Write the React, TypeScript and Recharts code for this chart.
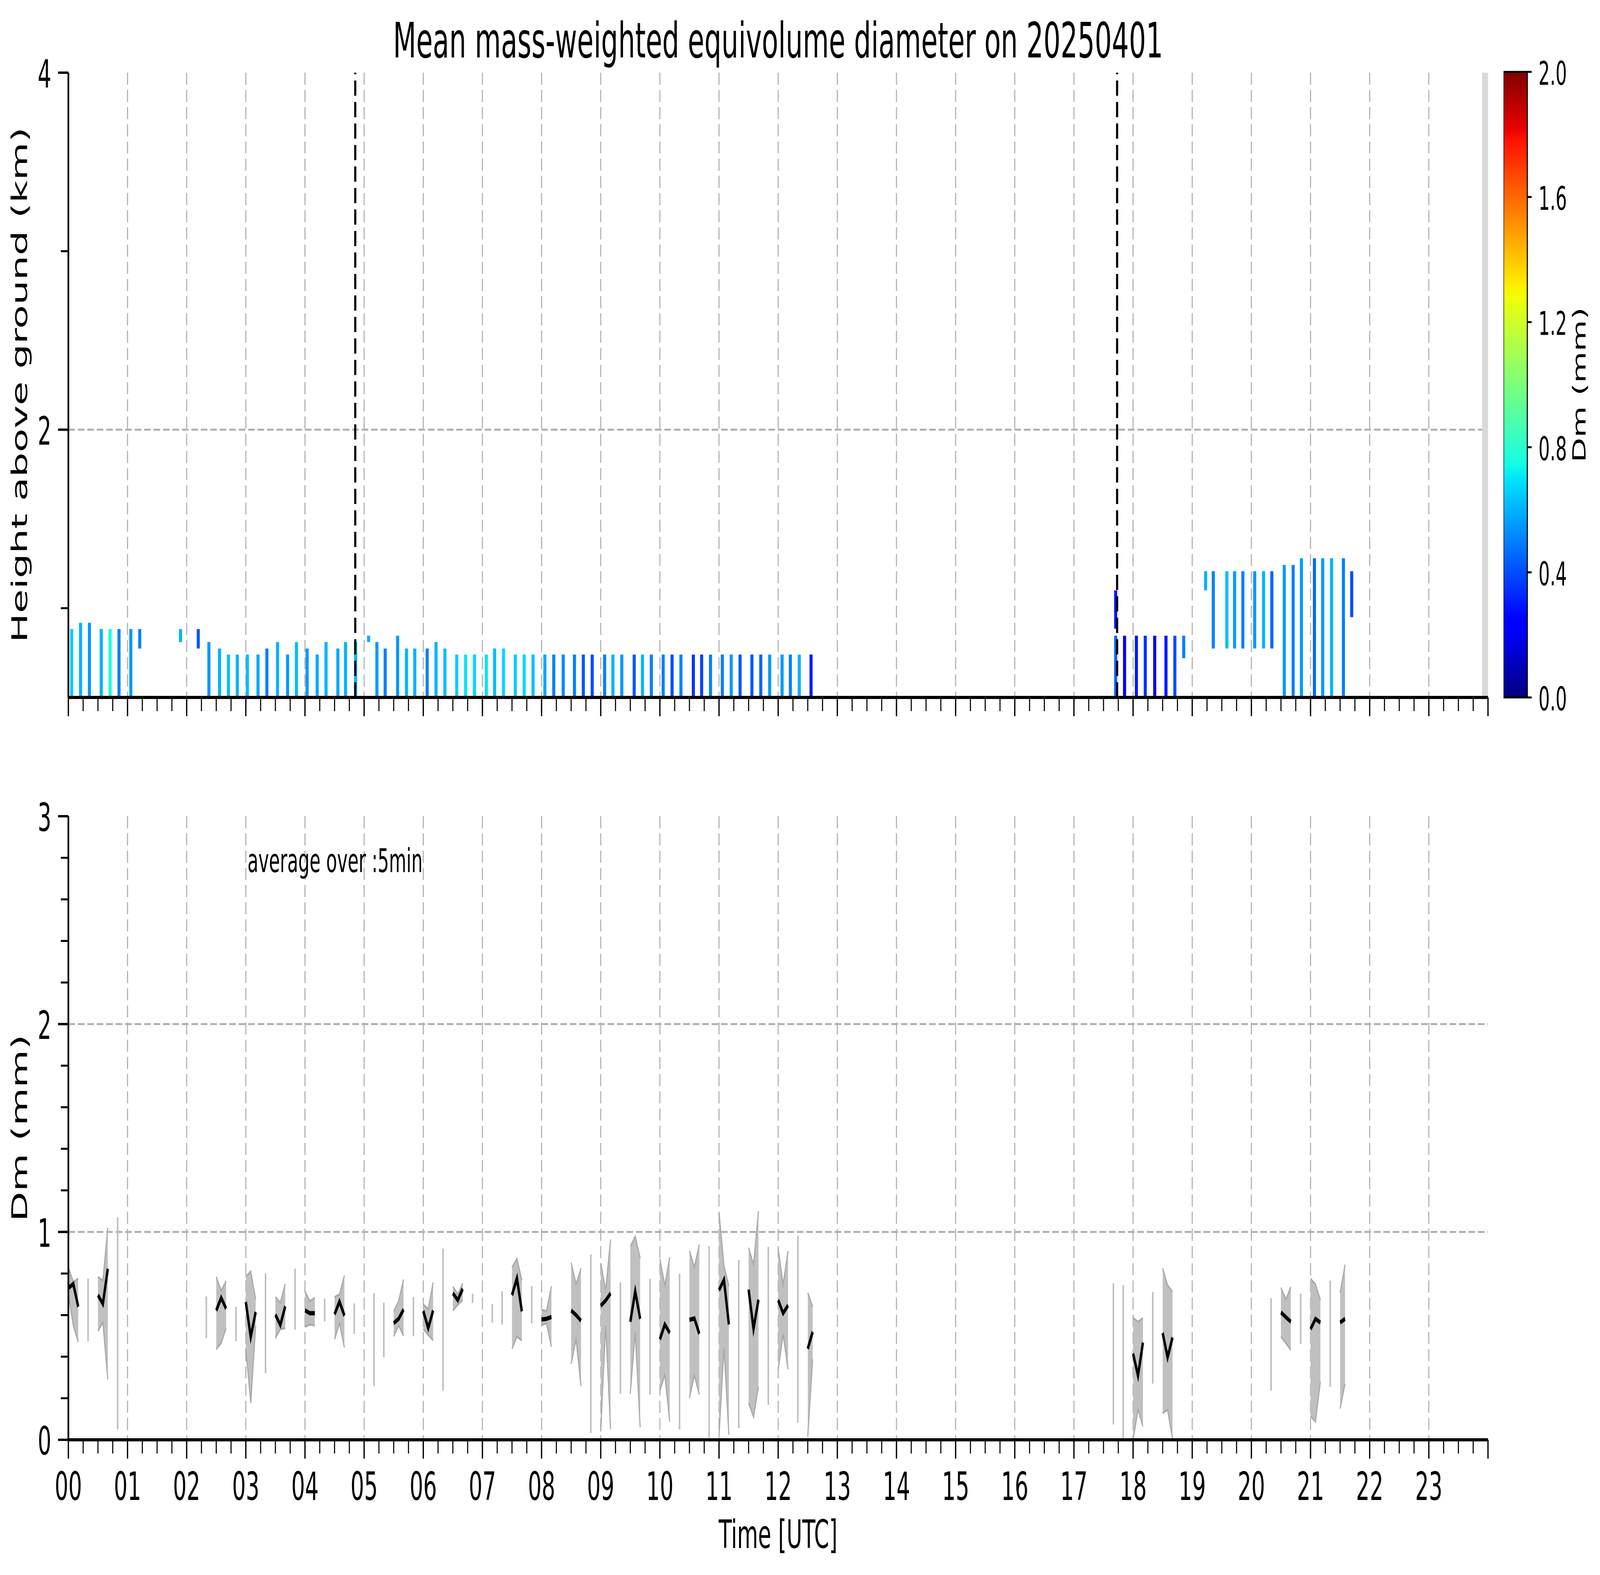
import React from 'react'
import {
  ComposedChart,
  XAxis,
  YAxis,
  CartesianGrid,
  ReferenceArea,
  ReferenceLine,
  Area,
  Line,
} from 'recharts'

const FONT = '"DejaVu Sans", sans-serif'
const FIG_W = 7442
const FIG_H = 4031

// hour labels on the time axis
const hourLabels = [
  '00', '01', '02', '03', '04', '05', '06', '07', '08', '09', '10', '11',
  '12', '13', '14', '15', '16', '17', '18', '19', '20', '21', '22', '23',
]
const gridHours = [1, 2, 3, 4, 5, 6, 7, 8, 9, 10, 11, 12, 13, 14, 15, 16, 17, 18, 19, 20, 21, 22, 23]
const quarterTicks = Array.from({ length: 97 }, (_, i) => i / 4)
const heightTicks = [1, 2, 3, 4]
const heightLabels = [2, 4]
const dmTicks = [0, 0.2, 0.4, 0.6, 0.8, 1, 1.2, 1.4, 1.6, 1.8, 2, 2.2, 2.4, 2.6, 2.8, 3]
const dmLabels = [0, 1, 2, 3]
const cbarTicks = [0, 0.4, 0.8, 1.2, 1.6, 2.0]

// twilight markers (hours)
const twilight = [4.85, 17.73]

// radar profiles (top panel): start hour, base km, top km, Dm mm
const stripeTime = [
  0.03, 0.18, 0.33, 0.53, 0.68, 0.83, 1.03, 1.18, 1.87, 2.17,
  2.35, 2.53, 2.68, 2.83, 3.0, 3.18, 3.33, 3.51, 3.68, 3.83,
  4.01, 4.18, 4.33, 4.53, 4.66, 4.83, 5.05, 5.19, 5.33, 5.54,
  5.69, 5.83, 6.04, 6.19, 6.34, 6.54, 6.69, 6.84, 7.04, 7.18,
  7.33, 7.53, 7.68, 7.83, 8.03, 8.18, 8.34, 8.53, 8.68, 8.83,
  9.04, 9.18, 9.33, 9.54, 9.68, 9.83, 10.03, 10.18, 10.33, 10.54,
  10.68, 10.83, 11.03, 11.18, 11.33, 11.53, 11.68, 11.83, 12.04, 12.18,
  12.33, 12.53, 17.68, 17.68, 17.83, 18.03, 18.18, 18.34, 18.53, 18.68,
  18.83, 19.2, 19.33, 19.56, 19.69, 19.83, 20.03, 20.18, 20.32, 20.53,
  20.68, 20.82, 21.04, 21.18, 21.33, 21.53, 21.67,
]
const stripeBase = [
  0.5, 0.5, 0.5, 0.5, 0.5, 0.5, 0.5, 0.774, 0.81, 0.774,
  0.5, 0.5, 0.5, 0.5, 0.5, 0.5, 0.5, 0.5, 0.5, 0.5,
  0.5, 0.5, 0.5, 0.5, 0.5, 0.5, 0.81, 0.5, 0.5, 0.5,
  0.5, 0.5, 0.5, 0.5, 0.5, 0.5, 0.5, 0.5, 0.5, 0.5,
  0.5, 0.5, 0.5, 0.5, 0.5, 0.5, 0.5, 0.5, 0.5, 0.5,
  0.5, 0.5, 0.5, 0.5, 0.5, 0.5, 0.5, 0.5, 0.5, 0.5,
  0.5, 0.5, 0.5, 0.5, 0.5, 0.5, 0.5, 0.5, 0.5, 0.5,
  0.5, 0.5, 0.5, 0.885, 0.5, 0.5, 0.5, 0.5, 0.5, 0.5,
  0.72, 1.1, 0.774, 0.774, 0.774, 0.774, 0.774, 0.774, 0.774, 0.5,
  0.5, 0.5, 0.5, 0.5, 0.5, 0.5, 0.95,
]
const stripeTop = [
  0.883, 0.918, 0.918, 0.883, 0.883, 0.883, 0.883, 0.883, 0.883, 0.883,
  0.81, 0.774, 0.74, 0.74, 0.74, 0.74, 0.774, 0.81, 0.74, 0.81,
  0.774, 0.74, 0.81, 0.774, 0.81, 0.81, 0.846, 0.81, 0.774, 0.846,
  0.774, 0.774, 0.774, 0.81, 0.774, 0.74, 0.74, 0.74, 0.74, 0.774,
  0.774, 0.74, 0.74, 0.74, 0.74, 0.74, 0.74, 0.74, 0.74, 0.74,
  0.74, 0.74, 0.74, 0.74, 0.74, 0.74, 0.74, 0.74, 0.74, 0.74,
  0.74, 0.74, 0.74, 0.74, 0.74, 0.74, 0.74, 0.74, 0.74, 0.74,
  0.74, 0.74, 0.846, 1.1, 0.846, 0.846, 0.846, 0.846, 0.846, 0.846,
  0.846, 1.207, 1.207, 1.207, 1.207, 1.207, 1.207, 1.207, 1.207, 1.242,
  1.242, 1.28, 1.28, 1.28, 1.28, 1.28, 1.207,
]
const stripeDm = [
  0.65, 0.6, 0.55, 0.6, 0.75, 0.5, 0.55, 0.5, 0.6, 0.42,
  0.55, 0.6, 0.62, 0.6, 0.62, 0.58, 0.5, 0.6, 0.55, 0.62,
  0.55, 0.58, 0.6, 0.58, 0.6, 0.6, 0.6, 0.55, 0.5, 0.55,
  0.6, 0.6, 0.5, 0.6, 0.62, 0.65, 0.7, 0.67, 0.7, 0.62,
  0.67, 0.65, 0.67, 0.63, 0.58, 0.5, 0.52, 0.5, 0.42, 0.4,
  0.5, 0.6, 0.55, 0.42, 0.6, 0.5, 0.5, 0.4, 0.5, 0.35,
  0.38, 0.5, 0.5, 0.55, 0.42, 0.42, 0.45, 0.55, 0.55, 0.5,
  0.6, 0.3, 0.45, 0.3, 0.25, 0.3, 0.35, 0.2, 0.3, 0.4,
  0.5, 0.6, 0.5, 0.62, 0.55, 0.5, 0.55, 0.6, 0.45, 0.55,
  0.5, 0.55, 0.45, 0.55, 0.6, 0.5, 0.4,
]
const STRIPE_W = 0.052

// 5-min averaged Dm (bottom panel): segment start hour, mean, lower, upper
const STEP = 5 / 60
const segStart = [0, 0.5, 2.5, 3, 3.5, 4, 4.5, 5.5, 6, 6.5, 7.5, 8, 8.5, 9, 9.5, 10, 10.5, 11, 11.5, 12, 12.5, 18, 18.5, 20.5, 21, 21.5]
const segMean = [
  [0.73, 0.75, 0.64], [0.696, 0.654, 0.823], [0.622, 0.683, 0.631], [0.663, 0.495, 0.615],
  [0.602, 0.552, 0.642], [0.622, 0.609, 0.609], [0.604, 0.665, 0.597], [0.561, 0.582, 0.627],
  [0.62, 0.537, 0.622], [0.705, 0.672, 0.726], [0.696, 0.777, 0.618], [0.579, 0.582, 0.591],
  [0.622, 0.6, 0.573], [0.645, 0.67, 0.705], [0.568, 0.714, 0.582], [0.483, 0.555, 0.514],
  [0.577, 0.584, 0.51], [0.72, 0.77, 0.555], [0.723, 0.534, 0.674], [0.672, 0.609, 0.647],
  [0.438, 0.519], [0.415, 0.309, 0.468], [0.514, 0.397, 0.492], [0.613, 0.59, 0.568],
  [0.532, 0.582, 0.564], [0.564, 0.582],
]
const segLo = [
  [0.7, 0.55, 0.47], [0.523, 0.564, 0.29], [0.435, 0.465, 0.537], [0.44, 0.177, 0.55],
  [0.489, 0.532, 0.537], [0.543, 0.555, 0.55], [0.483, 0.56, 0.444], [0.498, 0.55, 0.5],
  [0.532, 0.505, 0.478], [0.622, 0.65, 0.672], [0.438, 0.496, 0.478], [0.552, 0.56, 0.447],
  [0.366, 0.483, 0.258], [0.04, 0.55, 0.05], [0.222, 0.516, 0.06], [0.236, 0.312, 0.087],
  [0.2, 0.31, 0.218], [0.02, 0.442, 0.024], [0.177, 0.11, 0.254], [0.335, 0.507, 0.339],
  [0.015, 0.388], [0.0, 0.144, 0.065], [0.128, 0.144, 0.006], [0.496, 0.465, 0.433],
  [0.114, 0.087, 0.28], [0.15, 0.27],
]
const segHi = [
  [0.83, 0.76, 0.775], [0.784, 0.766, 1.02], [0.784, 0.717, 0.764], [0.784, 0.811, 0.676],
  [0.687, 0.66, 0.75], [0.714, 0.667, 0.683], [0.687, 0.7, 0.79], [0.618, 0.667, 0.771],
  [0.651, 0.63, 0.757], [0.737, 0.7, 0.753], [0.829, 0.872, 0.768], [0.624, 0.62, 0.739],
  [0.852, 0.748, 0.825], [0.85, 0.72, 0.964], [0.93, 0.978, 0.874], [0.87, 0.744, 0.879],
  [0.91, 0.83, 0.94], [1.094, 0.838, 0.739], [0.924, 0.843, 1.1], [0.919, 0.748, 0.908],
  [0.708, 0.64], [0.586, 0.568, 0.586], [0.825, 0.744, 0.712], [0.732, 0.676, 0.735],
  [0.775, 0.748, 0.672], [0.708, 0.843],
]

// isolated 5-min samples drawn as vertical ranges
const spikeTime = [
  0.333, 0.833, 2.333, 2.833, 3.333, 3.833, 4.333, 4.833, 5.167, 5.333,
  5.833, 6.333, 6.833, 7.167, 7.333, 7.833, 8.833, 9.333, 9.833, 10.333,
  10.833, 11.333, 11.833, 12.333, 17.667, 17.833, 18.333, 20.333, 20.833, 21.333,
]
const spikeLo = [
  0.474, 0.05, 0.49, 0.474, 0.32, 0.53, 0.57, 0.51, 0.258, 0.397,
  0.498, 0.237, 0.658, 0.564, 0.555, 0.561, 0.033, 0.222, 0.218, 0.05,
  0.01, 0.056, 0.168, 0.083, 0.074, 0.0, 0.27, 0.237, 0.46, 0.254,
]
const spikeHi = [
  0.775, 1.07, 0.69, 0.64, 0.8, 0.823, 0.68, 0.656, 0.705, 0.66,
  0.687, 0.92, 0.703, 0.654, 0.714, 0.739, 0.892, 0.757, 0.775, 0.8,
  0.933, 0.865, 0.928, 0.982, 0.753, 0.745, 0.712, 0.681, 0.703, 0.766,
]

// matplotlib "jet"
const jetR = [[0, 0], [0.35, 0], [0.66, 1], [0.89, 1], [1, 0.5]]
const jetG = [[0, 0], [0.125, 0], [0.375, 1], [0.64, 1], [0.91, 0], [1, 0]]
const jetB = [[0, 0.5], [0.11, 1], [0.34, 1], [0.65, 0], [1, 0]]
const jetStops = [0, 0.11, 0.125, 0.34, 0.35, 0.375, 0.5, 0.64, 0.65, 0.66, 0.89, 0.91, 1]

function lerp(nodes: number[][], t: number) {
  for (let i = 1; i < nodes.length; i++) {
    if (t <= nodes[i][0]) {
      const [x0, y0] = nodes[i - 1]
      const [x1, y1] = nodes[i]
      return y0 + ((t - x0) / (x1 - x0)) * (y1 - y0)
    }
  }
  return nodes[nodes.length - 1][1]
}

function jet(t: number) {
  const c = Math.min(1, Math.max(0, t))
  const r = Math.round(255 * lerp(jetR, c))
  const g = Math.round(255 * lerp(jetG, c))
  const b = Math.round(255 * lerp(jetB, c))
  return `rgb(${r},${g},${b})`
}

const rows: { t: number; mean: number | null; band: number[] | null }[] = []
segStart.forEach((t0, i) => {
  segMean[i].forEach((m, j) => {
    rows.push({ t: t0 + j * STEP, mean: m, band: [segLo[i][j], segHi[i][j]] })
  })
  rows.push({ t: t0 + segMean[i].length * STEP, mean: null, band: null })
})

const GRID = { stroke: '#b0b0b0', strokeWidth: 5, strokeDasharray: '31 13' }
const SPINE = { stroke: '#000', strokeWidth: 8 }

function TimeTick(props: any) {
  const { x, y, payload, showLabel } = props
  const v = payload.value
  const major = Math.abs(v - Math.round(v)) < 1e-6
  return (
    <g>
      <line x1={x} x2={x} y1={y} y2={y + (major ? 48 : 35)} stroke="#000" strokeWidth={major ? 6 : 5} />
      {showLabel && major && v < 24 && (
        <text x={x} y={y + 154} textAnchor="middle" fontSize={100} fontFamily={FONT} fill="#000">
          {hourLabels[Math.round(v)]}
        </text>
      )}
    </g>
  )
}

function LeftTick(props: any) {
  const { x, y, payload, labels } = props
  const v = payload.value
  const major = labels.some((l: number) => Math.abs(l - v) < 1e-6)
  return (
    <g>
      <line x1={x - (major ? 48 : 35)} x2={x} y1={y} y2={y} stroke="#000" strokeWidth={major ? 6 : 5} />
      {major && (
        <text x={x - 79} y={y + 38} textAnchor="end" fontSize={100} fontFamily={FONT} fill="#000">
          {v}
        </text>
      )}
    </g>
  )
}

function CbarTick(props: any) {
  const { x, y, payload } = props
  return (
    <g>
      <line x1={x} x2={x + 20} y1={y} y2={y} stroke="#000" strokeWidth={5} />
      <text x={x + 52} y={y + 33} textAnchor="start" fontSize={83} fontFamily={FONT} fill="#000">
        {payload.value.toFixed(1)}
      </text>
    </g>
  )
}

function HeightPanel() {
  return (
    <ComposedChart width={FIG_W} height={1900} margin={{ top: 186, right: 521, bottom: 0, left: 0 }}>
      <CartesianGrid {...GRID} verticalValues={gridHours} horizontalValues={[2]} />
      <XAxis
        type="number"
        dataKey="t"
        domain={[0, 24]}
        allowDataOverflow
        ticks={quarterTicks}
        interval={0}
        height={115}
        tickSize={0}
        tickMargin={0}
        tickLine={false}
        axisLine={SPINE}
        tick={(p: any) => <TimeTick {...p} showLabel={false} />}
      />
      <XAxis xAxisId="top" orientation="top" type="number" domain={[0, 24]} allowDataOverflow height={0} tick={false} tickLine={false} axisLine={SPINE} />
      <YAxis
        type="number"
        domain={[0.5, 4]}
        allowDataOverflow
        ticks={heightTicks}
        interval={0}
        width={318}
        tickSize={0}
        tickMargin={0}
        tickLine={false}
        axisLine={SPINE}
        tick={(p: any) => <LeftTick {...p} labels={heightLabels} />}
      />
      <YAxis yAxisId="right" orientation="right" type="number" domain={[0.5, 4]} allowDataOverflow width={0} tick={false} tickLine={false} axisLine={SPINE} />
      {stripeTime.map((t, i) => (
        <ReferenceArea
          key={`s${i}`}
          x1={t}
          x2={t + STRIPE_W}
          y1={stripeBase[i]}
          y2={stripeTop[i]}
          fill={jet(stripeDm[i] / 2)}
          fillOpacity={1}
          stroke="none"
        />
      ))}
      <ReferenceArea x1={23.9} x2={24} y1={0.5} y2={4} fill="#d9d9d9" fillOpacity={1} stroke="none" />
      {twilight.map((t) => (
        <ReferenceLine key={t} x={t} stroke="#000" strokeWidth={10} strokeDasharray="39 16" />
      ))}
    </ComposedChart>
  )
}

function DmPanel() {
  return (
    <ComposedChart width={FIG_W} height={FIG_H} data={rows} margin={{ top: 2089, right: 521, bottom: 0, left: 0 }}>
      <CartesianGrid {...GRID} verticalValues={gridHours} horizontalValues={[1, 2]} />
      <XAxis
        type="number"
        dataKey="t"
        domain={[0, 24]}
        allowDataOverflow
        ticks={quarterTicks}
        interval={0}
        height={346}
        tickSize={0}
        tickMargin={0}
        tickLine={false}
        axisLine={SPINE}
        tick={(p: any) => <TimeTick {...p} showLabel />}
      />
      <XAxis xAxisId="top" orientation="top" type="number" domain={[0, 24]} allowDataOverflow height={0} tick={false} tickLine={false} axisLine={SPINE} />
      <YAxis
        type="number"
        domain={[0, 3]}
        allowDataOverflow
        ticks={dmTicks}
        interval={0}
        width={318}
        tickSize={0}
        tickMargin={0}
        tickLine={false}
        axisLine={SPINE}
        tick={(p: any) => <LeftTick {...p} labels={dmLabels} />}
      />
      <YAxis yAxisId="right" orientation="right" type="number" domain={[0, 3]} allowDataOverflow width={0} tick={false} tickLine={false} axisLine={SPINE} />
      <Area
        type="linear"
        dataKey="band"
        fill="#c0c0c0"
        fillOpacity={1}
        stroke="#a8a8a8"
        strokeWidth={5}
        connectNulls={false}
        dot={false}
        activeDot={false}
        isAnimationActive={false}
      />
      {spikeTime.map((t, i) => (
        <ReferenceLine
          key={`k${i}`}
          segment={[{ x: t, y: spikeLo[i] }, { x: t, y: spikeHi[i] }]}
          stroke="#bdbdbd"
          strokeWidth={7}
        />
      ))}
      <Line
        type="linear"
        dataKey="mean"
        stroke="#000"
        strokeWidth={11}
        connectNulls={false}
        dot={false}
        activeDot={false}
        isAnimationActive={false}
      />
    </ComposedChart>
  )
}

function ColorBar() {
  return (
    <ComposedChart width={400} height={1900} margin={{ top: 184, right: 0, bottom: 115, left: 0 }}>
      <defs>
        <linearGradient id="jetGrad" x1="0" y1="1" x2="0" y2="0">
          {jetStops.map((s) => (
            <stop key={s} offset={s} stopColor={jet(s)} />
          ))}
        </linearGradient>
      </defs>
      <XAxis type="number" dataKey="x" domain={[0, 1]} allowDataOverflow hide />
      <YAxis
        orientation="right"
        type="number"
        domain={[0, 2]}
        allowDataOverflow
        ticks={cbarTicks}
        interval={0}
        width={289}
        tickSize={0}
        tickMargin={0}
        tickLine={false}
        axisLine={false}
        tick={(p: any) => <CbarTick {...p} />}
      />
      <ReferenceArea x1={0} x2={1} y1={0} y2={2} fill="url(#jetGrad)" fillOpacity={1} stroke="#000" strokeWidth={5} />
    </ComposedChart>
  )
}

export default function App() {
  // the browser may give a narrower viewport than the figure; stretch the figure onto it
  const vw = typeof window !== 'undefined' ? window.innerWidth : FIG_W
  const vh = typeof window !== 'undefined' ? window.innerHeight : FIG_H
  const sx = Math.min(1, vw / FIG_W)
  const sy = Math.min(1, vh / FIG_H)
  return (
    <div style={{ position: 'absolute', left: 0, top: 0, width: FIG_W * sx, height: FIG_H * sy, overflow: 'hidden', background: '#fff' }}>
      <div style={{ position: 'absolute', left: 0, top: 0, width: FIG_W, height: FIG_H, transform: `scale(${sx}, ${sy})`, transformOrigin: '0 0' }}>
        <div style={{ position: 'absolute', left: 0, top: 0 }}>
          <DmPanel />
        </div>
        <div style={{ position: 'absolute', left: 0, top: 0 }}>
          <HeightPanel />
        </div>
        <div style={{ position: 'absolute', left: 6993, top: 0 }}>
          <ColorBar />
        </div>
        <svg width={FIG_W} height={FIG_H} style={{ position: 'absolute', left: 0, top: 0, pointerEvents: 'none' }}>
          <g fontFamily={FONT} fill="#000">
            <text x={3619} y={147} textAnchor="middle" fontSize={125}>
              Mean mass-weighted equivolume diameter on 20250401
            </text>
            <text x={126} y={985} textAnchor="middle" fontSize={100} transform="rotate(-90 126 985)">
              Height above ground (km)
            </text>
            <text x={126} y={2887} textAnchor="middle" fontSize={100} transform="rotate(-90 126 2887)">
              Dm (mm)
            </text>
            <text x={3619} y={3962} textAnchor="middle" fontSize={100}>
              Time [UTC]
            </text>
            <text x={7375} y={985} textAnchor="middle" fontSize={83} transform="rotate(-90 7375 985)">
              Dm (mm)
            </text>
            <text x={1151} y={2232} textAnchor="start" fontSize={83}>
              average over :5min
            </text>
          </g>
        </svg>
      </div>
    </div>
  )
}
